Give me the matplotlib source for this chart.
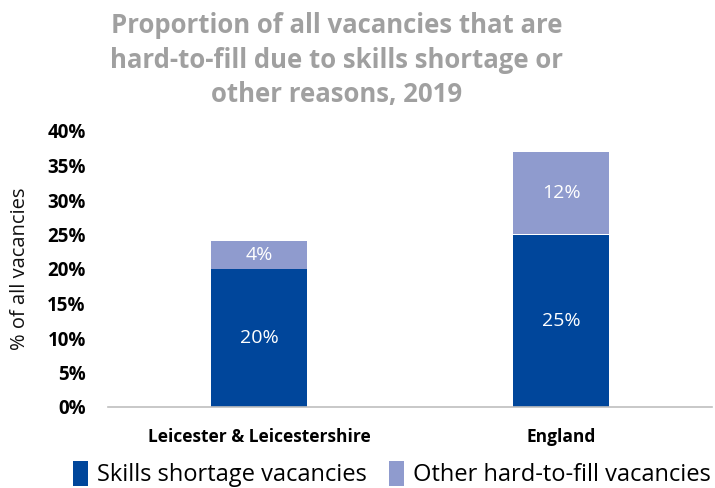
import matplotlib
matplotlib.use("Agg")
import matplotlib.pyplot as plt
import numpy as np

plt.rcParams['font.family'] = ['Open Sans', 'DejaVu Sans']

categories = ["Leicester & Leicestershire", "England"]
skills_shortage = [20, 25]
other_hard_to_fill = [4, 12]
series_names = ["Skills shortage vacancies", "Other hard-to-fill vacancies"]
y_ticks = [0, 5, 10, 15, 20, 25, 30, 35, 40]

dark_blue = "#00469B"
light_blue = "#8F9BCE"

fig = plt.figure(figsize=(7.15, 4.88), dpi=100)
ax = fig.add_axes([108 / 715, 1 - 407 / 488, 604 / 715, 276 / 488])

x = np.arange(len(categories))
width = 0.32
b1 = ax.bar(x, skills_shortage, width, color=dark_blue, label=series_names[0])
b2 = ax.bar(x, other_hard_to_fill, width, bottom=skills_shortage,
            color=light_blue, label=series_names[1])

for bars, vals, bottoms in ((b1, skills_shortage, [0, 0]),
                            (b2, other_hard_to_fill, skills_shortage)):
    for rect, v, b in zip(bars, vals, bottoms):
        ax.text(rect.get_x() + rect.get_width() / 2, b + v / 2, f"{v}%",
                ha="center", va="center", color="white", fontsize=14)

ax.set_xlim(-0.5, 1.5)
ax.set_ylim(0, 40)
ax.set_yticks(y_ticks)
ax.set_yticklabels([f"{t}%" for t in y_ticks], fontsize=13.5, fontweight="bold")
ax.set_xticks(x)
ax.set_xticklabels(categories, fontsize=12.5, fontweight="bold")
ax.tick_params(axis="both", length=0)
ax.tick_params(axis="y", pad=16)
ax.tick_params(axis="x", pad=15)
for s in ("top", "right", "left"):
    ax.spines[s].set_visible(False)
ax.spines["bottom"].set_color("#BFBFBF")
ax.spines["bottom"].set_linewidth(1.2)
ax.set_ylabel("% of all vacancies", fontsize=14.5, color="#111111")
ax.yaxis.set_label_coords(-(108 - 30) / 604, 0.5)

fig.text(337 / 715, 1 - 60 / 488,
         "Proportion of all vacancies that are\nhard-to-fill due to skills shortage or\nother reasons, 2019",
         ha="center", va="center", fontsize=18.5, fontweight="bold",
         color="#A0A0A0", linespacing=1.38)

fig.legend(handles=[b1, b2], labels=series_names, loc="center",
           bbox_to_anchor=(392 / 715, 1 - 474 / 488), ncol=2, frameon=False,
           fontsize=17, handlelength=0.65, handleheight=1.3,
           handletextpad=0.4, columnspacing=0.9)

fig.savefig("out.png", dpi=100)
